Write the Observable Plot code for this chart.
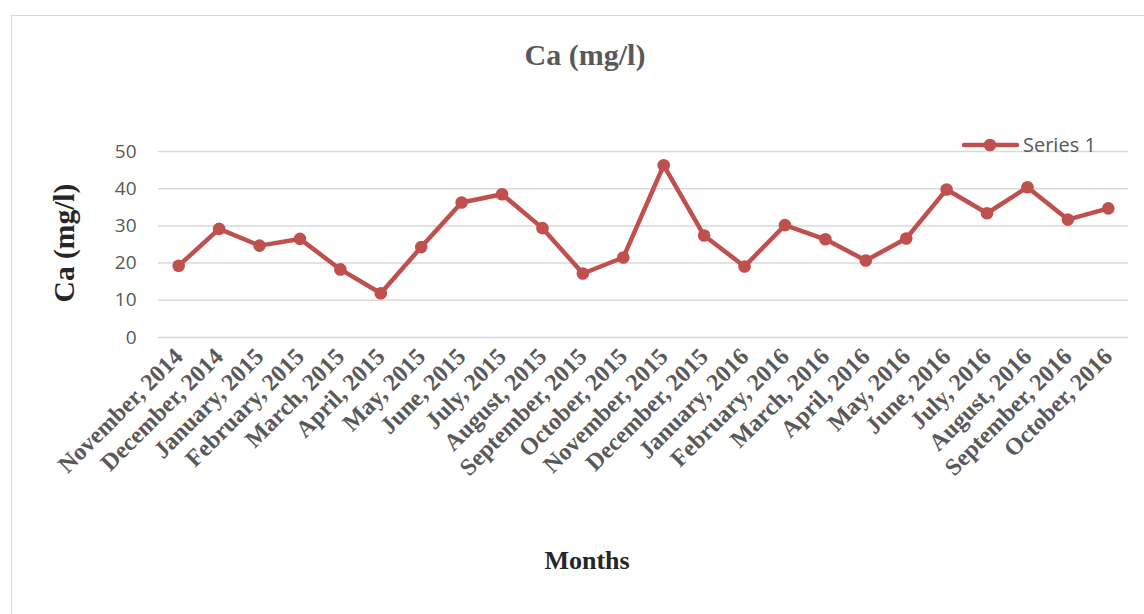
<!DOCTYPE html>
<html>
<head>
<meta charset="utf-8">
<script src="https://cdn.jsdelivr.net/npm/d3@7"></script>
<script src="https://cdn.jsdelivr.net/npm/@observablehq/plot@0.6"></script>
<style>
  html, body { margin: 0; padding: 0; background: #fff; }
  #chart { position: relative; width: 1144px; height: 614px; overflow: hidden; }
  #frame { position: absolute; left: 11px; top: 15px; width: 1160px; height: 640px;
           border: 1.5px solid #d9d9d9; box-sizing: border-box; }
  #plot { position: absolute; left: 0; top: 0; }
  .lbl { position: absolute; white-space: nowrap; line-height: 1; font-family: "Liberation Serif", "Times New Roman", serif; font-weight: bold; }
  #title { left: 585px; top: 40px; transform: translateX(-50%); font-size: 30px; color: #595959; }
  #ytitle { left: 65px; top: 243px; transform: translate(-50%, -50%) rotate(-90deg); font-size: 29.5px; color: #262626; }
  #xtitle { left: 587px; top: 548px; transform: translateX(-50%); font-size: 26px; color: #262626; }
  #legend { position: absolute; left: 960px; top: 132px; display: flex; align-items: center; gap: 3px; }
  #legend span { font-family: "Open Sans", sans-serif; font-size: 20px; color: #595959; line-height: 1; white-space: nowrap; }
</style>
</head>
<body>
<div id="chart">
  <div id="frame"></div>
  <div id="plot"></div>
  <div class="lbl" id="title">Ca (mg/l)</div>
  <div class="lbl" id="ytitle">Ca (mg/l)</div>
  <div class="lbl" id="xtitle">Months</div>
  <div id="legend"><svg id="swatch" width="60" height="26"></svg><span id="legendText"></span></div>
</div>
<script>
// Monthly sampling periods (x categories)
const months = [
  "November, 2014", "December, 2014", "January, 2015", "February, 2015",
  "March, 2015", "April, 2015", "May, 2015", "June, 2015", "July, 2015",
  "August, 2015", "September, 2015", "October, 2015", "November, 2015",
  "December, 2015", "January, 2016", "February, 2016", "March, 2016",
  "April, 2016", "May, 2016", "June, 2016", "July, 2016", "August, 2016",
  "September, 2016", "October, 2016"
];

// Calcium concentration, mg/l
const caValues = [
  19.3, 29.2, 24.7, 26.5, 18.3, 11.9, 24.3, 36.3, 38.5, 29.4, 17.2, 21.5,
  46.3, 27.4, 19.1, 30.2, 26.4, 20.7, 26.6, 39.8, 33.4, 40.4, 31.7, 34.7
];

// Value-axis ticks
const yTicks = [0, 10, 20, 30, 40, 50];

const seriesName = "Series 1";
const lineColor = "#c0504d";

const data = months.map((m, i) => ({month: m, ca: caValues[i]}));

const plot = Plot.plot({
  width: 1144,
  height: 614,
  marginLeft: 158,
  marginRight: 16,
  marginTop: 151,
  marginBottom: 277,
  style: {background: "transparent", overflow: "visible"},
  x: {type: "point", domain: months, padding: 0.5, round: false},
  y: {domain: [0, 50]},
  marks: [
    Plot.gridY(yTicks, {stroke: "#d9d9d9", strokeOpacity: 1, strokeWidth: 1.5}),
    Plot.axisY(yTicks, {
      tickSize: 0, tickPadding: 22, label: null,
      fontSize: 19, fontFamily: "Open Sans, sans-serif", fill: "#595959"
    }),
    Plot.axisX({
      tickSize: 0, tickPadding: 15, tickRotate: -45, label: null,
      fontSize: 24, fontWeight: "bold", fontFamily: "Liberation Serif, serif", fill: "#595959"
    }),
    Plot.line(data, {x: "month", y: "ca", stroke: lineColor, strokeWidth: 4.5,
                     strokeLinejoin: "round", strokeLinecap: "round"}),
    Plot.dot(data, {x: "month", y: "ca", r: 6.3, fill: lineColor, stroke: "none"})
  ]
});
document.getElementById("plot").appendChild(plot);

// Legend: line swatch with marker and series name
const sw = d3.select("#swatch");
sw.append("line").attr("x1", 4).attr("x2", 57).attr("y1", 13).attr("y2", 13)
  .attr("stroke", lineColor).attr("stroke-width", 4.5).attr("stroke-linecap", "round");
sw.append("circle").attr("cx", 30).attr("cy", 13).attr("r", 6.3).attr("fill", lineColor);
d3.select("#legendText").text(seriesName);
</script>
</body>
</html>
